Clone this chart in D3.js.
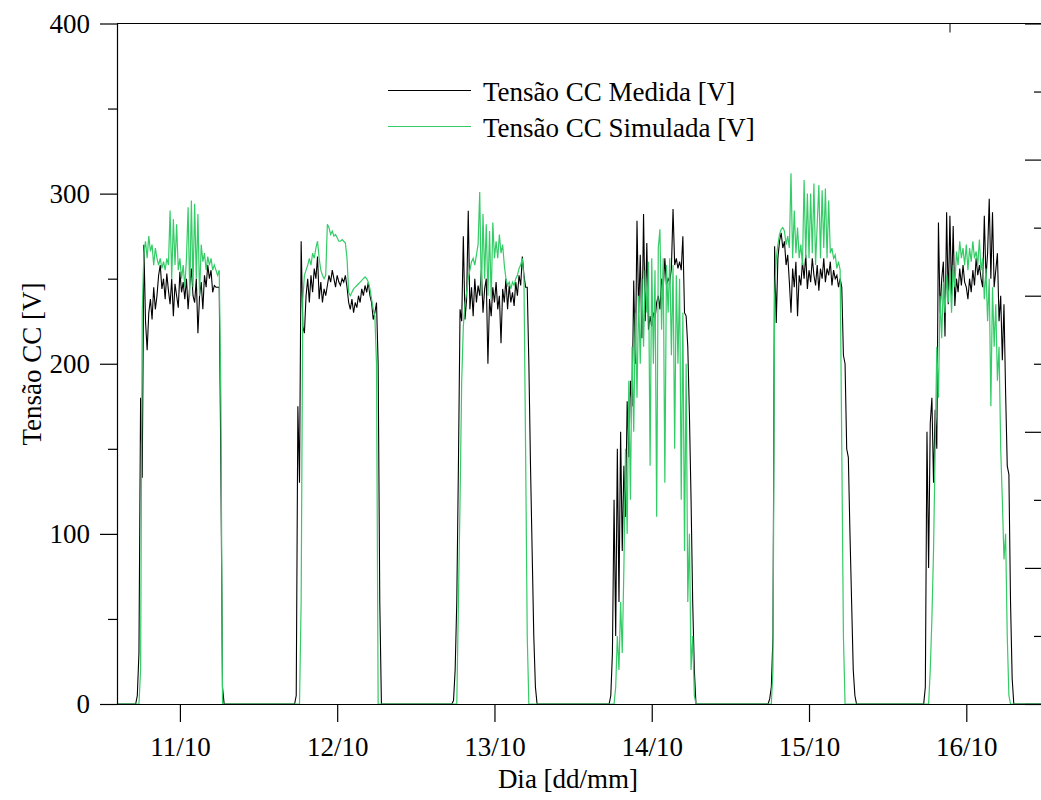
<!DOCTYPE html>
<html>
<head>
<meta charset="utf-8">
<script src="https://cdn.jsdelivr.net/npm/d3@7"></script>
<style>
  html, body { margin: 0; padding: 0; background: #fff; }
  svg { display: block; font-family: "Liberation Serif", "Times New Roman", serif; }
</style>
</head>
<body>
<svg id="chart" width="1041" height="800"></svg>
<script>
// Day labels (tick placed at noon of each day)
const dayLabels = ["11/10", "12/10", "13/10", "14/10", "15/10", "16/10"];

// Sampling instants (hour of day) shared by every daily record
const hourGrid = [5, 5.25, 5.5, 5.75, 6, 6.25, 6.5, 6.75, 7, 7.25, 7.5, 7.75,
  8, 8.25, 8.5, 8.75, 9, 9.25, 9.5, 9.75, 10, 10.25, 10.5, 10.75,
  11, 11.25, 11.5, 11.75, 12, 12.25, 12.5, 12.75, 13, 13.25, 13.5, 13.75,
  14, 14.25, 14.5, 14.75, 15, 15.25, 15.5, 15.75, 16, 16.25, 16.5, 16.75,
  17, 17.25, 17.5, 17.75, 18, 18.25, 18.5, 18.75, 19, 19.25, 19.5];

// Measured DC voltage [V], one array per day
const medida11 = [0,0,5,30,180,133,270,225,208,230,238,226,245,232,240,252,258,244,250,238,253,243,235,250,228,247,240,233,254,242,248,238,250,232,246,256,240,236,250,218,240,248,232,252,245,258,250,255,242,246,245,245,245,140,10,0];
const medida12 = [0,0,0,5,175,130,272,222,218,240,250,236,252,242,256,250,263,238,248,236,244,240,246,252,248,255,250,245,252,248,246,250,248,252,245,236,232,238,230,236,233,240,236,244,240,246,242,248,240,236,226,230,236,200,60,0];
const medida13 = [0,0,0,2,20,60,140,232,225,275,226,238,290,232,245,228,250,236,246,240,255,230,244,250,200,238,228,245,236,248,232,240,212,244,236,250,232,246,236,242,234,248,240,252,246,263,252,245,245,200,140,90,40,10,0];
const medida14 = [0,0,0,5,30,120,40,150,60,160,90,140,110,178,145,190,175,249,200,284,230,264,215,288,225,271,220,228,222,230,226,236,240,232,250,244,262,246,250,248,256,291,258,262,256,260,255,275,230,228,210,170,120,60,20,0];
const medida15 = [0,0,0,0,3,10,40,269,224,262,272,277,268,272,258,264,248,230,256,245,260,228,252,246,260,250,264,244,255,248,262,252,246,258,243,256,250,262,248,256,252,260,246,255,250,252,245,250,245,205,200,150,145,100,60,20,5,0];
const medida16 = [0,0,0,10,160,80,165,180,130,173,150,283,230,250,260,216,289,235,287,240,281,234,250,242,256,246,258,248,245,238,250,242,255,246,262,252,258,250,245,287,250,265,297,250,289,245,255,265,225,240,202,235,183,140,135,60,15,0];

// Simulated DC voltage [V], one array per day
const simulada11 = [0,0,0,0,20,230,265,272,262,275,266,270,258,268,262,258,262,256,260,255,262,258,290,250,285,258,282,255,262,250,258,245,262,292,240,296,245,294,250,288,240,270,260,265,255,263,258,262,255,258,255,252,255,180,0];
const simulada12 = [0,0,0,0,0,0,60,238,252,255,258,262,258,265,262,268,272,262,255,252,250,252,282,280,276,278,275,276,274,272,272,273,272,271,262,242,240,242,244,245,246,247,248,249,250,251,250,248,244,238,232,228,200,0];
const simulada13 = [0,0,0,0,0,0,60,120,190,222,235,242,250,255,260,262,258,264,270,301,240,288,250,282,240,278,238,283,262,272,262,276,265,270,258,250,246,248,244,248,246,250,252,256,258,262,250,150,40,0];
const simulada14 = [0,0,0,0,0,0,10,40,20,60,30,80,150,100,190,120,210,160,230,180,240,200,250,210,255,230,260,140,262,200,255,110,268,279,220,262,130,258,230,262,205,258,150,252,200,250,120,230,90,200,60,100,20,40,5,0];
const simulada15 = [0,0,0,0,0,0,20,240,262,270,276,279,280,278,270,275,268,312,262,290,265,280,262,270,258,308,262,300,262,300,265,306,258,282,305,262,302,268,303,262,296,265,268,262,264,256,260,255,150,40,0];
const simulada16 = [0,0,0,0,0,0,20,50,90,150,210,180,240,215,248,230,252,236,255,230,258,245,266,258,272,262,268,258,270,255,268,260,272,262,266,258,273,255,262,238,256,225,250,175,245,210,235,190,210,150,120,85,100,40,5,0];

const medidaDays = [medida11, medida12, medida13, medida14, medida15, medida16];
const simuladaDays = [simulada11, simulada12, simulada13, simulada14, simulada15, simulada16];

// Time window shown, in hours counted from 11/10 00:00
const timeWindow = [2.4, 143.4];
const yTicksMajor = [0, 100, 200, 300, 400];
const yTicksMinor = [50, 150, 250, 350];

const legendItems = [
  { label: "Tensão CC Medida [V]", color: "#000000" },
  { label: "Tensão CC Simulada [V]", color: "#33cc66" }
];

// ---- layout ----
const svg = d3.select("#chart");
const plotLeft = 117, plotRight = 1041, plotTop = 23.5, plotBottom = 704;
const fontSize = 27;

const x = d3.scaleLinear().domain(timeWindow).range([plotLeft, plotRight]);
const y = d3.scaleLinear().domain([0, 400]).range([plotBottom, plotTop]);

function toSeries(days) {
  const pts = [[timeWindow[0], 0]];
  days.forEach((vals, d) => {
    vals.forEach((v, i) => pts.push([d * 24 + hourGrid[i], v]));
  });
  pts.push([timeWindow[1], 0]);
  return pts;
}

const line = d3.line().x(d => x(d[0])).y(d => y(d[1]));

const plot = svg.append("g");
plot.append("path")
  .attr("d", line(toSeries(medidaDays)))
  .attr("fill", "none").attr("stroke", legendItems[0].color)
  .attr("stroke-width", 1.1).attr("stroke-linejoin", "miter");
plot.append("path")
  .attr("d", line(toSeries(simuladaDays)))
  .attr("fill", "none").attr("stroke", legendItems[1].color)
  .attr("stroke-width", 1.2).attr("stroke-linejoin", "miter");

// ---- axes ----
const tickDays = dayLabels.map((_, i) => i * 24 + 12);

const gx = svg.append("g").attr("transform", `translate(0,${plotBottom})`)
  .call(d3.axisBottom(x).tickValues(tickDays)
    .tickFormat((d, i) => dayLabels[i]).tickSize(18).tickSizeOuter(0).tickPadding(15));
gx.select(".domain").attr("d", `M${plotLeft - 17},0.5H${plotRight}`);

svg.append("g").attr("transform", `translate(${plotLeft},0)`)
  .call(d3.axisLeft(y).tickValues(yTicksMajor).tickSize(17).tickSizeOuter(0).tickPadding(10));
svg.append("g").attr("transform", `translate(${plotLeft},0)`)
  .call(d3.axisLeft(y).tickValues(yTicksMinor).tickSize(9).tickFormat(""))
  .select(".domain").remove();

// right-hand frame ticks (inward), no labels
const yRight = d3.scaleLinear().domain([0, 10]).range([plotBottom, plotTop]);
svg.append("g").attr("transform", `translate(${plotRight},0)`)
  .call(d3.axisRight(yRight).tickValues([0, 2, 4, 6, 8, 10]).tickSize(-16).tickFormat("").tickSizeOuter(0))
  .select(".domain").remove();
svg.append("g").attr("transform", `translate(${plotRight},0)`)
  .call(d3.axisRight(yRight).tickValues([1, 3, 5, 7, 9]).tickSize(-7).tickFormat("").tickSizeOuter(0))
  .select(".domain").remove();

// top frame line
svg.append("line").attr("x1", plotLeft).attr("x2", plotRight)
  .attr("y1", plotTop).attr("y2", plotTop).attr("stroke", "#000").attr("stroke-width", 1.2);
svg.append("line").attr("x1", 950).attr("x2", 950)
  .attr("y1", plotTop).attr("y2", plotTop + 9).attr("stroke", "#000").attr("stroke-width", 1);

svg.selectAll(".tick text").attr("font-size", fontSize)
  .attr("font-family", "Liberation Serif").attr("fill", "#000");
svg.selectAll(".tick line, .domain").attr("stroke", "#000").attr("stroke-width", 1.2);

// ---- axis titles ----
svg.append("text").attr("x", 568).attr("y", 788)
  .attr("text-anchor", "middle").attr("font-size", fontSize).text("Dia [dd/mm]");
svg.append("text").attr("transform", "translate(41,364) rotate(-90)")
  .attr("text-anchor", "middle").attr("font-size", fontSize).text("Tensão CC [V]");

// ---- legend ----
const lg = svg.append("g");
legendItems.forEach((it, i) => {
  const ly = 90.5 + i * 36;
  lg.append("line").attr("x1", 388).attr("x2", 471).attr("y1", ly).attr("y2", ly)
    .attr("stroke", it.color).attr("stroke-width", 1.2);
  lg.append("text").attr("x", 483).attr("y", ly + 10).attr("font-size", fontSize).text(it.label);
});
</script>
</body>
</html>
